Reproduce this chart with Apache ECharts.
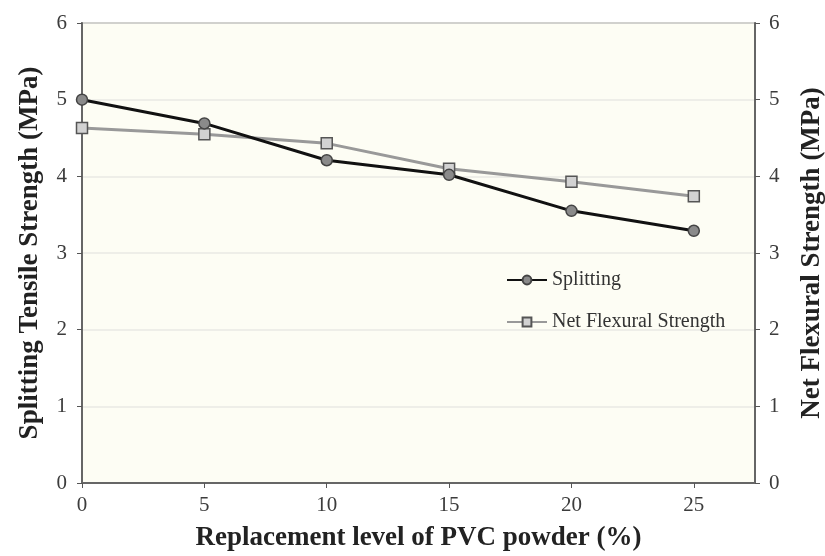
<!DOCTYPE html>
<html>
<head>
<meta charset="utf-8">
<script src="https://cdn.jsdelivr.net/npm/echarts@6/dist/echarts.min.js"></script>
<style>html,body{margin:0;padding:0;background:#fff}#c{width:825px;height:556px}</style>
</head>
<body>
<div id="c"></div>
<script>
const xLevels = [0, 5, 10, 15, 20, 25];
const splitting = [5.00, 4.69, 4.21, 4.02, 3.55, 3.29];
const netFlexural = [4.63, 4.55, 4.43, 4.10, 3.93, 3.74];
const xTicks = [0, 5, 10, 15, 20, 25];

const serif = '"Liberation Serif", "DejaVu Serif", serif';
const chart = echarts.init(document.getElementById('c'));
const pairs = arr => xLevels.map((x, i) => [x, arr[i]]);

chart.setOption({
  animation: false,
  backgroundColor: '#ffffff',
  grid: {
    left: 82, right: 70, top: 23, bottom: 73,
    outerBoundsMode: 'none',
    show: true, backgroundColor: '#fdfdf4', borderColor: '#666', borderWidth: 1.5
  },
  legend: {
    orient: 'vertical', left: 501, top: 265, itemGap: 22,
    itemWidth: 40, itemHeight: 11,
    textStyle: { fontFamily: serif, fontSize: 20, color: '#333' },
    data: ['Splitting', 'Net Flexural Strength']
  },
  xAxis: {
    type: 'value', min: 0, max: 27.5, interval: 5,
    name: 'Replacement level of PVC powder (%)',
    nameLocation: 'middle', nameGap: 42,
    nameTextStyle: { fontFamily: serif, fontSize: 27, fontWeight: 'bold', color: '#222' },
    axisLine: { lineStyle: { color: '#666', width: 2 } },
    axisTick: { show: true, length: 5, customValues: xTicks, lineStyle: { color: '#555' } },
    axisLabel: { customValues: xTicks, fontFamily: serif, fontSize: 21, color: '#3c3c3c', margin: 12 },
    splitLine: { show: false }
  },
  yAxis: [{
    type: 'value', min: 0, max: 6, interval: 1, position: 'left',
    name: 'Splitting Tensile Strength (MPa)',
    nameLocation: 'middle', nameGap: 38, nameRotate: 90,
    nameTextStyle: { fontFamily: serif, fontSize: 27, fontWeight: 'bold', color: '#222' },
    axisLine: { show: true, lineStyle: { color: '#666', width: 2 } },
    axisTick: { show: true, length: 5, lineStyle: { color: '#555' } },
    axisLabel: { fontFamily: serif, fontSize: 21, color: '#3c3c3c', margin: 15 },
    splitLine: { show: true, lineStyle: { color: '#e8e8e4', width: 1.5 } }
  }, {
    type: 'value', min: 0, max: 6, interval: 1, position: 'right',
    name: 'Net Flexural Strength (MPa)',
    nameLocation: 'middle', nameGap: 44, nameRotate: 90,
    nameTextStyle: { fontFamily: serif, fontSize: 27, fontWeight: 'bold', color: '#222' },
    axisLine: { show: true, lineStyle: { color: '#666', width: 2 } },
    axisTick: { show: true, length: 5, lineStyle: { color: '#555' } },
    axisLabel: { fontFamily: serif, fontSize: 21, color: '#3c3c3c', margin: 14 },
    splitLine: { show: false }
  }],
  series: [{
    name: 'Splitting', type: 'line', yAxisIndex: 0,
    data: pairs(splitting),
    symbol: 'circle', symbolSize: 11,
    lineStyle: { color: '#111', width: 3 },
    itemStyle: { color: '#8a8a8a', borderColor: '#444', borderWidth: 1.5 },
    z: 3
  }, {
    name: 'Net Flexural Strength', type: 'line', yAxisIndex: 1,
    data: pairs(netFlexural),
    symbol: 'rect', symbolSize: 11,
    lineStyle: { color: '#999', width: 3 },
    itemStyle: { color: '#d2d2d2', borderColor: '#555', borderWidth: 1.5 },
    z: 2
  }]
});
</script>
</body>
</html>
